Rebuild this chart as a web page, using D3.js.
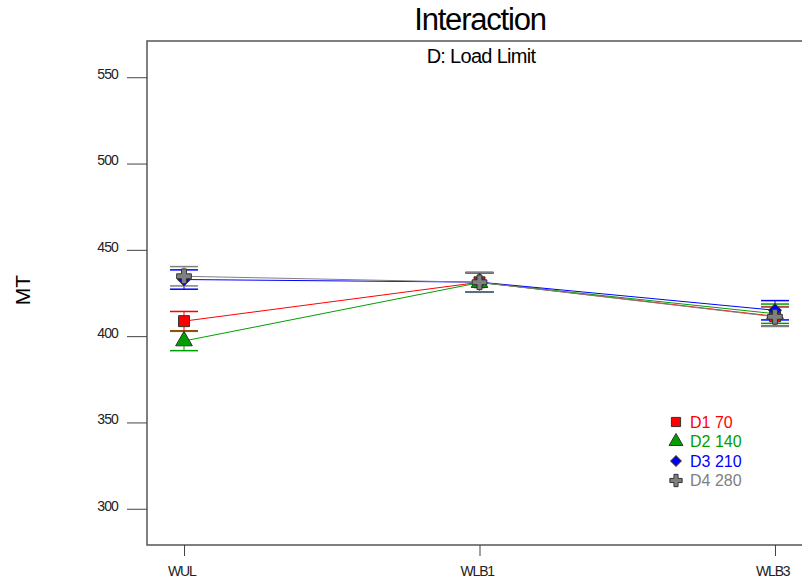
<!DOCTYPE html>
<html>
<head>
<meta charset="utf-8">
<script src="https://d3js.org/d3.v7.min.js"></script>
<style>
  body { margin: 0; background: #fff; }
  text { font-family: "Liberation Sans", Arial, sans-serif; }
</style>
</head>
<body>
<div id="chart"></div>
<script>
// data
var categories = ["WUL", "WLB1", "WLB3"];
var seriesNames = ["D1 70", "D2 140", "D3 210", "D4 280"];
var d1 = [408.7, 431.2, 411.5];
var d2 = [397.2, 431.0, 413.0];
var d3v = [432.8, 431.3, 415.0];
var d4 = [434.7, 431.2, 411.2];
var halfLSD = 5.6;
var yTicks = [300, 350, 400, 450, 500, 550];
var colors = ["#ff0000", "#00a000", "#0000ff", "#808080"];

var width = 802, height = 580;
var margin = {top: 41, right: 0, bottom: 35, left: 147};

var svg = d3.select("#chart").append("svg")
    .attr("width", width)
    .attr("height", height);

var x = d3.scalePoint()
    .domain(categories)
    .range([184, 775]);

var y = d3.scaleLinear()
    .domain([279, 571])
    .range([height - margin.bottom, margin.top]);

// frame
svg.append("path")
    .attr("d", "M" + width + "," + margin.top + "H" + margin.left + "V" + (height - margin.bottom) + "H" + width)
    .attr("fill", "none")
    .attr("stroke", "#555")
    .attr("stroke-width", 1.5);

// y axis
var yAxis = svg.append("g")
    .attr("transform", "translate(" + margin.left + ",0)")
    .call(d3.axisLeft(y).tickValues(yTicks).tickSize(20).tickPadding(9));
yAxis.select(".domain").remove();
yAxis.selectAll("line").attr("stroke", "#444");
yAxis.selectAll("text").style("font-size", "14px").style("letter-spacing", "-0.9px")
    .attr("fill", "#222").attr("dy", "0.1em");

// x axis
var xAxis = svg.append("g")
    .attr("transform", "translate(0," + (height - margin.bottom) + ")")
    .call(d3.axisBottom(x).tickSize(11).tickPadding(10));
xAxis.select(".domain").remove();
xAxis.selectAll("line").attr("stroke", "#444");
xAxis.selectAll("text").style("font-size", "14px").style("letter-spacing", "-1.2px")
    .attr("fill", "#222").attr("dx", "-0.2em");

// titles
svg.append("text")
    .attr("x", 480).attr("y", 30)
    .attr("text-anchor", "middle")
    .style("font-size", "31px")
    .style("letter-spacing", "-1.2px")
    .text("Interaction");

svg.append("text")
    .attr("x", 481).attr("y", 63)
    .attr("text-anchor", "middle")
    .style("font-size", "20px")
    .style("letter-spacing", "-0.7px")
    .text("D: Load Limit");

svg.append("text")
    .attr("transform", "translate(30,290) rotate(-90)")
    .attr("text-anchor", "middle")
    .style("font-size", "21px")
    .text("MT");

var series = [d1, d2, d3v, d4].map(function(vals, i) {
  return {name: seriesNames[i], color: colors[i], values: vals.map(function(v, j) {
    return {cat: categories[j], v: v};
  })};
});

var line = d3.line()
    .x(function(d) { return x(d.cat); })
    .y(function(d) { return y(d.v); });

// error bars
series.forEach(function(s) {
  var g = svg.append("g");
  s.values.forEach(function(d) {
    var cx = x(d.cat);
    g.append("line")
      .attr("x1", cx).attr("x2", cx)
      .attr("y1", y(d.v - halfLSD)).attr("y2", y(d.v + halfLSD))
      .attr("stroke", s.color).attr("stroke-width", 1);
    [d.v - halfLSD, d.v + halfLSD].forEach(function(e) {
      g.append("line")
        .attr("x1", cx - 14).attr("x2", cx + 14)
        .attr("y1", y(e)).attr("y2", y(e))
        .attr("stroke", s.color).attr("stroke-width", 1.5);
    });
  });
});

// lines
series.forEach(function(s) {
  svg.append("path")
    .datum(s.values)
    .attr("d", line)
    .attr("fill", "none")
    .attr("stroke", s.color)
    .attr("stroke-width", 1);
});

var shapes = [d3.symbolSquare, d3.symbolTriangle, d3.symbolSquare, d3.symbolCross];
var sizes = [120, 120, 80, 120];
var rotations = [0, 0, 45, 0];

function marker(sel, i, k) {
  k = k || 1;
  sel.attr("d", d3.symbol().type(shapes[i]).size(sizes[i] * k))
    .attr("fill", colors[i])
    .attr("stroke", "#333")
    .attr("stroke-width", 1);
}

// markers
series.forEach(function(s, i) {
  svg.append("g").selectAll("path")
    .data(s.values)
    .join("path")
    .attr("transform", function(d) {
      return "translate(" + x(d.cat) + "," + y(d.v) + ") rotate(" + rotations[i] + ")";
    })
    .call(marker, i);
});

// legend
var legend = svg.append("g")
    .attr("transform", "translate(676,422)");
seriesNames.forEach(function(n, i) {
  var row = legend.append("g").attr("transform", "translate(0," + (i * 19.5) + ")");
  row.append("path").call(marker, i, 0.7).attr("transform", "rotate(" + rotations[i] + ")");
  row.append("text")
    .attr("x", 14).attr("y", 5.5)
    .style("font-size", "16px")
    .attr("fill", colors[i])
    .text(n);
});
</script>
</body>
</html>
